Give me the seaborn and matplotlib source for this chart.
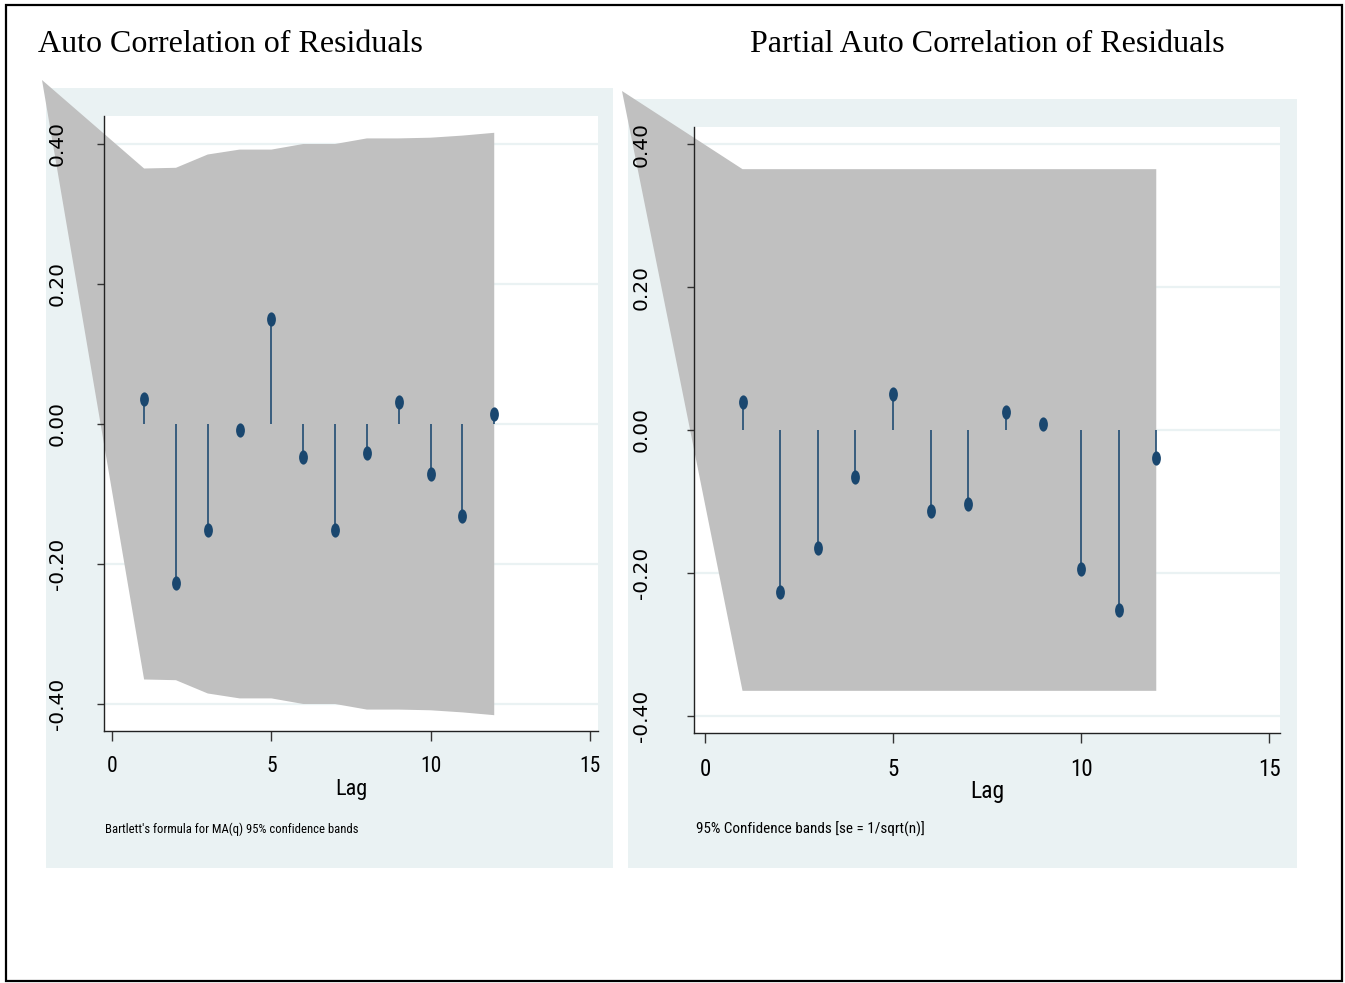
import numpy as np
import matplotlib
matplotlib.use("Agg")
import matplotlib.pyplot as plt
import seaborn as sns
from matplotlib import font_manager
from matplotlib.patches import Rectangle
from matplotlib.path import Path
from matplotlib.transforms import Affine2D

# Data
lags = [1, 2, 3, 4, 5, 6, 7, 8, 9, 10, 11, 12]
acf_vals = [0.036, -0.227, -0.152, -0.009, 0.150, -0.047,
            -0.152, -0.042, 0.031, -0.071, -0.132, 0.014]
acf_band = [0.365, 0.366, 0.385, 0.392, 0.392, 0.400,
            0.400, 0.408, 0.408, 0.409, 0.412, 0.416]
pacf_vals = [0.039, -0.227, -0.165, -0.066, 0.051, -0.113,
             -0.104, 0.025, 0.008, -0.195, -0.252, -0.039]
pacf_band = [0.365] * 12

x_ticks = [0, 5, 10, 15]
y_ticks = [-0.4, -0.2, 0.0, 0.2, 0.4]
y_ticklabels = ["-0.40", "-0.20", "0.00", "0.20", "0.40"]

titles = ["Auto Correlation of Residuals", "Partial Auto Correlation of Residuals"]
notes = ["Bartlett's formula for MA(q) 95% confidence bands",
         "95% Confidence bands [se = 1/sqrt(n)]"]

navy = "#1a476f"
band_gray = "#c0c0c0"
region = "#eaf2f3"

sns.set_style("white")
plt.rcParams["font.family"] = ["DejaVu Sans"]

names = {f.name for f in font_manager.fontManager.ttflist}
narrow = next((n for n in ["Liberation Sans Narrow", "DejaVu Sans Condensed",
                           "Roboto Condensed", "Open Sans Condensed"] if n in names), None)
if narrow is None:
    narrow, shrink = "Liberation Sans", 0.85
else:
    shrink = 1.0

W, H = 1345, 983
fig = plt.figure(figsize=(W / 100, H / 100), dpi=100)
fig.patch.set_facecolor("white")


def fx(px):
    return px / W


def fy(py):
    return 1 - py / H


# panel layout in pixels; the left graph is squeezed more, so its text is smaller
panels = [
    dict(reg=(46, 88, 613, 868), box=(104, 116, 598, 731), corner=(42, 80),
         xlim=(-0.26, 15.26), ylim=(-0.4386, 0.44), pad=22,
         vals=acf_vals, band=acf_band, title_x=38,
         tick_fs=15.5, lag_fs=16, note_fs=9.1),
    dict(reg=(628, 99, 1297, 868), box=(694, 127, 1280, 733), corner=(622, 91),
         xlim=(-0.29, 15.29), ylim=(-0.424, 0.424), pad=26,
         vals=pacf_vals, band=pacf_band, title_x=750,
         tick_fs=16.5, lag_fs=17, note_fs=10.9),
]

ellipse = Path.unit_circle().transformed(Affine2D().scale(0.62, 1.0))

for i, p in enumerate(panels):
    x0, y0, x1, y1 = p["reg"]
    fig.patches.append(Rectangle((fx(x0), fy(y1)), fx(x1 - x0), (y1 - y0) / H,
                                 transform=fig.transFigure, facecolor=region,
                                 edgecolor="none", zorder=-5))
    bx0, by0, bx1, by1 = p["box"]
    ax = fig.add_axes([fx(bx0), fy(by1), fx(bx1 - bx0), (by1 - by0) / H])
    ax.set_facecolor("white")

    for yt in y_ticks:
        ax.axhline(yt, color=region, lw=1.6, zorder=0.8)

    vals = np.array(p["vals"])
    ax.vlines(lags, 0, vals, color=navy, lw=1.15, zorder=3)
    sns.scatterplot(x=lags, y=vals, ax=ax, marker=ellipse, s=105, color=navy,
                    edgecolor=navy, linewidth=0, zorder=4, legend=False)

    ax.set_xlim(*p["xlim"])
    ax.set_ylim(*p["ylim"])
    ax.set_autoscale_on(False)

    # Stata draws the band polygon starting from a stray corner point
    cx, cy = p["corner"]
    corner = ax.transData.inverted().transform(fig.transFigure.transform((fx(cx), fy(cy))))
    band = np.array(p["band"])
    xs = [corner[0]] + lags + lags[::-1]
    ys = [corner[1]] + list(band) + list(-band[::-1])
    ax.fill(xs, ys, color=band_gray, lw=0, clip_on=False, zorder=1.5)

    ax.set_axisbelow(False)
    ax.grid(False)
    for s in ["top", "right"]:
        ax.spines[s].set_visible(False)
    for s in ["left", "bottom"]:
        ax.spines[s].set_color("#222222")
        ax.spines[s].set_linewidth(1.0)
        ax.spines[s].set_zorder(2.6)

    ax.set_xticks(x_ticks)
    ax.set_xticklabels([str(t) for t in x_ticks], fontfamily=narrow,
                       fontsize=p["tick_fs"] * shrink)
    ax.set_yticks(y_ticks)
    ax.set_yticklabels(y_ticklabels, fontsize=14.5, rotation=90)
    for lab in ax.get_yticklabels():
        lab.set_va("center")
    ax.tick_params(axis="x", direction="out", length=7, width=1, pad=11,
                   color="#333333", labelcolor="black", bottom=True)
    ax.tick_params(axis="y", direction="out", length=5, width=1, pad=p["pad"],
                   color="#333333", labelcolor="black", left=True)

    ax.set_xlabel("Lag", fontfamily=narrow, fontsize=p["lag_fs"] * shrink, color="black")
    ax.xaxis.set_label_coords(0.5, -0.078)
    ax.set_ylabel("")

    ax.text(0.003, -0.166, notes[i], transform=ax.transAxes, ha="left", va="baseline",
            fontfamily=narrow, fontsize=p["note_fs"] * shrink, color="black")

    fig.text(fx(p["title_x"]), fy(52), titles[i], ha="left", va="baseline",
             fontfamily=["Liberation Serif", "DejaVu Serif"], fontsize=23, color="black")

# outer frame
fig.patches.append(Rectangle((fx(6), fy(981)), fx(1336), 976 / H, transform=fig.transFigure,
                             facecolor="none", edgecolor="black", lw=1.6, zorder=10))

fig.savefig("out.png", dpi=100, facecolor="white")
